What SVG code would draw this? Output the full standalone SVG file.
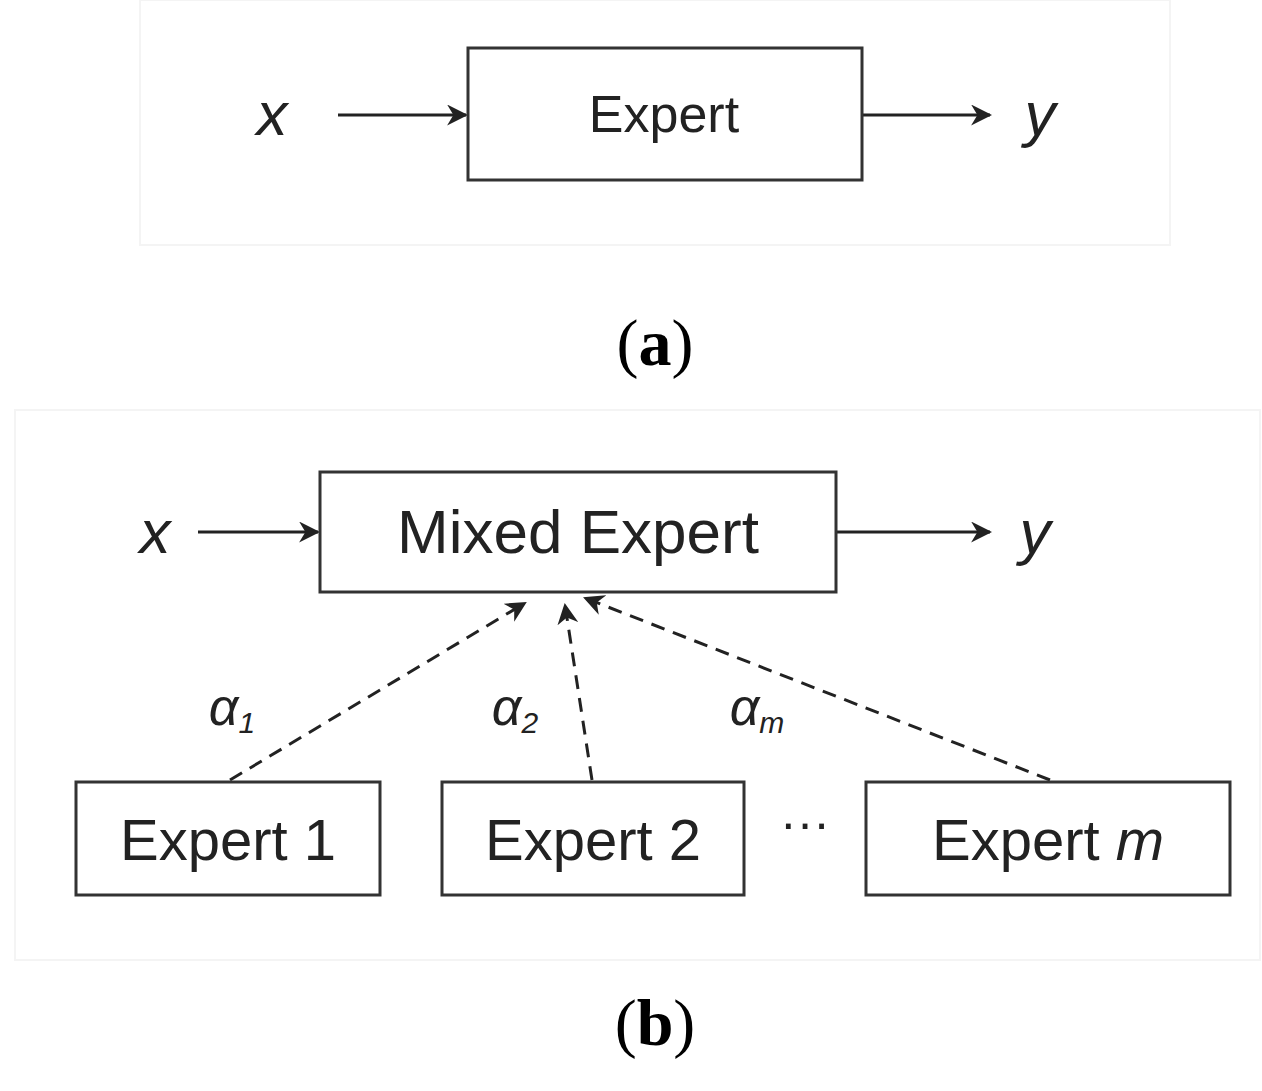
<svg xmlns="http://www.w3.org/2000/svg" width="1262" height="1091" viewBox="0 0 1262 1091">
<style>
.box{fill:#fff;stroke:#333;stroke-width:3}
.t{font-family:"Liberation Sans",Arial,sans-serif;fill:#222;text-anchor:middle}
.v{font-family:"Liberation Sans",Arial,sans-serif;font-style:italic;fill:#222;text-anchor:middle}
.cap{font-family:"Liberation Serif","Times New Roman",serif;fill:#000;text-anchor:middle;font-size:66px}
.ln{stroke:#222;stroke-width:3;fill:none}
.dl{stroke:#222;stroke-width:3;fill:none;stroke-dasharray:14 9}
</style>
<defs>
<marker id="ah" viewBox="0 0 10 10" refX="9" refY="5" markerWidth="8" markerHeight="8" markerUnits="userSpaceOnUse" orient="auto"><path d="M0,0 L10,5 L0,10 L3,5 Z" fill="#222"/></marker>
<marker id="ah2" viewBox="0 0 10 10" refX="9" refY="5" markerWidth="7" markerHeight="7" orient="auto"><path d="M0,0 L10,5 L0,10 L3,5 Z" fill="#222"/></marker>
</defs>
<rect x="0" y="0" width="1262" height="1091" fill="#fff"/>
<rect x="140" y="0" width="1030" height="245" fill="none" stroke="#f4f4f4" stroke-width="2"/>
<rect x="15" y="410" width="1245" height="550" fill="none" stroke="#f4f4f4" stroke-width="2"/>
<g id="connectors">
<line class="ln" x1="338" y1="115" x2="466" y2="115" marker-end="url(#ah2)"/>
<line class="ln" x1="862" y1="115" x2="990" y2="115" marker-end="url(#ah2)"/>
<line class="ln" x1="198" y1="532" x2="318" y2="532" marker-end="url(#ah2)"/>
<line class="ln" x1="836" y1="532" x2="990" y2="532" marker-end="url(#ah2)"/>
<line class="dl" x1="230" y1="780" x2="525" y2="603" marker-end="url(#ah2)"/>
<line class="dl" x1="592" y1="780" x2="565" y2="605" marker-end="url(#ah2)"/>
<line class="dl" x1="1050" y1="780" x2="585" y2="598" marker-end="url(#ah2)"/>
</g>
<g id="a-x"><text class="v" x="272" y="135" font-size="62">x</text></g>
<g id="a-expert"><rect class="box" x="468" y="48" width="394" height="132"/><text class="t" x="664" y="132" font-size="52">Expert</text></g>
<g id="a-y"><text class="v" x="1040" y="135" font-size="62">y</text></g>
<text class="cap" x="655" y="365">(<tspan font-weight="bold">a</tspan>)</text>
<g id="b-x"><text class="v" x="155" y="553" font-size="62">x</text></g>
<g id="mixed"><rect class="box" x="320" y="472" width="516" height="120"/><text class="t" x="578" y="553" font-size="62">Mixed Expert</text></g>
<g id="b-y"><text class="v" x="1035" y="553" font-size="62">y</text></g>
<g id="e1"><rect class="box" x="76" y="782" width="304" height="113"/><text class="t" x="228" y="860" font-size="58">Expert 1</text></g>
<g id="e2"><rect class="box" x="442" y="782" width="302" height="113"/><text class="t" x="593" y="860" font-size="58">Expert 2</text></g>
<g id="em"><rect class="box" x="866" y="782" width="364" height="113"/><text class="t" x="1048" y="860" font-size="58">Expert <tspan font-style="italic">m</tspan></text></g>
<text class="t" x="805" y="840" font-size="50">···</text>
<text class="v" x="232" y="725" font-size="52">α<tspan font-size="30" dy="8">1</tspan></text>
<text class="v" x="515" y="725" font-size="52">α<tspan font-size="30" dy="8">2</tspan></text>
<text class="v" x="757" y="725" font-size="52">α<tspan font-size="30" dy="8">m</tspan></text>
<text class="cap" x="655" y="1045">(<tspan font-weight="bold">b</tspan>)</text>
</svg>
